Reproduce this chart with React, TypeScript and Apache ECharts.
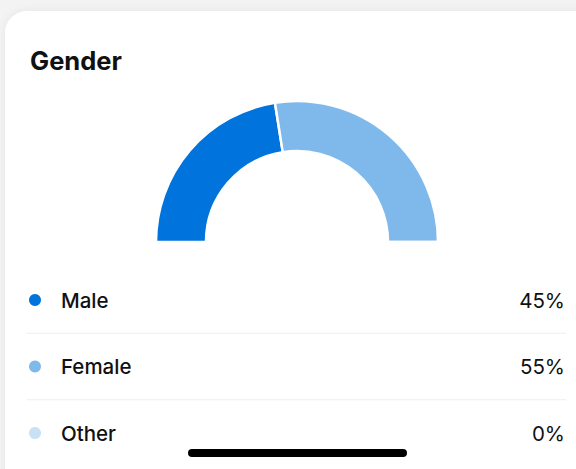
import React, { useEffect, useRef } from "react";
import * as echarts from "echarts";

const title = "Gender";
const categories = ["Male", "Female", "Other"];
const values = [45, 55, 0];
const valueLabels = ["45%", "55%", "0%"];
const colors = ["#0073DC", "#7FB9EB", "#C8E1F5"];

export default function App() {
  const ref = useRef<HTMLDivElement>(null);
  useEffect(() => {
    if (!ref.current) return;
    const chart = echarts.init(ref.current, null, { renderer: "svg" });
    const font = "Inter, 'Noto Sans', sans-serif";
    const rowY0 = 300;
    const rowGap = 66.5;
    const graphics: any[] = [
      {
        type: "rect",
        z: 0,
        shape: { x: 5, y: 11, width: 620, height: 520, r: 22 },
        style: { fill: "#ffffff", shadowBlur: 8, shadowColor: "rgba(0,0,0,0.06)" },
        silent: true,
      },
      {
        type: "text",
        z: 2,
        x: 30,
        y: 60,
        style: {
          text: title,
          font: `700 25.5px ${font}`,
          fill: "#111111",
          verticalAlign: "middle",
        },
      },
    ];
    categories.forEach((c, i) => {
      const y = rowY0 + i * rowGap;
      graphics.push({
        type: "circle",
        z: 2,
        shape: { cx: 35, cy: y, r: 6 },
        style: { fill: colors[i] },
      });
      graphics.push({
        type: "text",
        z: 2,
        x: 61,
        y: y,
        style: { text: c, font: `500 20.5px ${font}`, fill: "#111111", verticalAlign: "middle" },
      });
      graphics.push({
        type: "text",
        z: 2,
        x: 565,
        y: y,
        style: {
          text: valueLabels[i],
          font: `400 20.5px ${font}`,
          fill: "#111111",
          align: "right",
          verticalAlign: "middle",
        },
      });
      if (i < categories.length - 1) {
        const ly = y + rowGap / 2;
        graphics.push({
          type: "line",
          z: 2,
          shape: { x1: 27, y1: ly, x2: 566, y2: ly },
          style: { stroke: "#EEEEEE", lineWidth: 1 },
        });
      }
    });
    graphics.push({
      type: "rect",
      z: 3,
      shape: { x: 188, y: 449, width: 219, height: 8, r: 4 },
      style: { fill: "#000000" },
    });

    chart.setOption({
      animation: false,
      backgroundColor: "#F3F3F3",
      graphic: { elements: graphics },
      series: [
        {
          type: "pie",
          z: 5,
          center: [297, 242],
          radius: [91, 141],
          startAngle: 180,
          endAngle: 0,
          clockwise: true,
          silent: true,
          label: { show: false },
          labelLine: { show: false },
          itemStyle: { borderColor: "#ffffff", borderWidth: 2.5 },
          data: categories.map((c, i) => ({
            name: c,
            value: values[i],
            itemStyle: { color: colors[i] },
          })),
        },
      ],
    });
    return () => chart.dispose();
  }, []);
  return (
    <div
      ref={ref}
      style={{ position: "absolute", left: 0, top: 0, width: 576, height: 469 }}
    />
  );
}
